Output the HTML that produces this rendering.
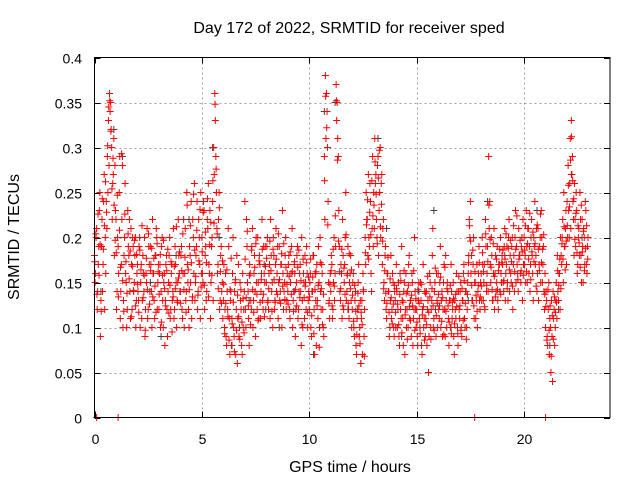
<!DOCTYPE html>
<html><head><meta charset="utf-8"><style>
body{margin:0;background:#fff}
svg{display:block;font-family:"Liberation Sans",sans-serif}
</style></head><body>
<svg id="chart" width="640" height="480" viewBox="0 0 640 480" xmlns="http://www.w3.org/2000/svg">
<rect width="640" height="480" fill="#fff"/>
<text x="349" y="33" text-anchor="middle" font-size="16">Day 172 of 2022, SRMTID for receiver sped</text>
<text x="350" y="472" text-anchor="middle" font-size="16">GPS time / hours</text>
<text transform="translate(19,237) rotate(-90)" text-anchor="middle" font-size="16">SRMTID / TECUs</text>
<g id="grid"></g>
<g id="axes"></g>
<g id="gray"></g>
<g id="red"></g>
<rect x="94.5" y="57.5" width="515.5" height="360" fill="none" stroke="#000" stroke-width="1"/>
</svg>
<script>
const xTicks=[0,5,10,15,20];
const yTicks=[0,0.05,0.1,0.15,0.2,0.25,0.3,0.35,0.4];
const yTickLabels=["0","0.05","0.1","0.15","0.2","0.25","0.3","0.35","0.4"];
const epochStart=0, epochStep=0.05;
const valuesA=[
.18,.16,.21,.14,.19,.25,.13,.22,.17,.27,.2,.24,.29,.33,.36,.35,.3,.26,.31,.28,
.22,.14,.19,.25,.11,.17,.28,.13,.2,.16,.1,.23,.18,.14,.21,.12,.19,.15,.2,.13,
.17,.13,.2,.15,.11,.18,.14,.09,.16,.21,.12,.17,.19,.14,.22,.16,.11,.18,.2,.15,
.12,.17,.14,.2,.1,.16,.13,.18,.09,.15,.2,.12,.17,.14,.11,.19,.15,.13,.22,.16,
.14,.19,.11,.22,.16,.13,.25,.15,.1,.18,.24,.13,.2,.26,.15,.19,.12,.22,.17,.25,
.2,.15,.23,.18,.13,.22,.26,.16,.11,.19,.24,.3,.36,.29,.21,.17,.25,.13,.19,.15,
.13,.1,.16,.08,.12,.19,.07,.14,.11,.2,.09,.15,.12,.06,.17,.1,.13,.08,.16,.12,
.24,.1,.19,.14,.08,.16,.12,.21,.13,.18,.09,.15,.2,.11,.17,.14,.22,.12,.16,.19,
.15,.2,.12,.17,.22,.14,.1,.18,.13,.21,.16,.11,.19,.14,.17,.23,.12,.15,.2,.13,
.14,.18,.11,.16,.21,.13,.17,.09,.15,.19,.12,.16,.14,.2,.1,.15,.18,.12,.16,.13,
.12,.16,.09,.14,.18,.07,.13,.17,.11,.15,.2,.12,.16,.1,.29,.38,.36,.3,.15,.11,
.14,.17,.12,.2,.16,.37,.35,.29,.19,.13,.16,.22,.12,.17,.25,.14,.19,.11,.16,.13,
.12,.16,.09,.14,.07,.12,.17,.1,.06,.13,.16,.09,.2,.25,.22,.27,.19,.24,.14,.29,
.25,.31,.27,.2,.29,.23,.3,.26,.17,.22,.13,.19,.11,.16,.14,.1,.18,.12,.15,.09,
.13,.17,.1,.15,.08,.12,.19,.11,.14,.07,.16,.12,.1,.18,.13,.09,.15,.11,.2,.12,
.12,.08,.15,.1,.13,.07,.17,.11,.09,.14,.12,.05,.16,.1,.13,.21,.11,.15,.09,.13,
.16,.11,.19,.13,.09,.15,.12,.18,.1,.14,.08,.13,.17,.11,.15,.07,.12,.16,.1,.14,
.11,.15,.09,.13,.17,.1,.14,.12,.16,.22,.24,.18,.13,.2,.15,.11,.17,.14,.19,.12,
.16,.2,.13,.17,.22,.14,.19,.29,.24,.15,.18,.13,.21,.16,.14,.19,.12,.17,.2,.15,
.17,.14,.21,.16,.19,.13,.22,.18,.15,.2,.17,.14,.23,.19,.16,.21,.18,.15,.2,.22,
.2,.18,.23,.15,.21,.19,.17,.22,.16,.2,.24,.18,.14,.21,.17,.2,.23,.15,.19,.12,
.1,.13,.08,.15,.11,.05,.09,.14,.12,.1,.15,.18,.13,.16,.2,.17,.22,.25,.19,.23,
.24,.28,.2,.31,.33,.29,.22,.26,.19,.23,.17,.21,.25,.18,.22,.15,.2,.24,.17,.19];
const valuesB=[
.15,.2,.12,.17,.23,.09,.19,.14,.24,.12,.16,.21,.25,.28,.34,.32,.22,.27,.18,.23,
.12,.2,.16,.29,.14,.22,.1,.18,.26,.15,.12,.19,.22,.11,.17,.2,.14,.18,.1,.16,
.14,.19,.1,.17,.13,.16,.2,.12,.15,.11,.19,.14,.17,.1,.16,.13,.18,.21,.12,.17,
.16,.1,.19,.13,.15,.08,.17,.12,.14,.18,.11,.16,.13,.21,.12,.17,.1,.15,.18,.14,
.18,.12,.16,.1,.21,.14,.17,.12,.19,.15,.11,.22,.16,.13,.18,.24,.14,.2,.11,.16,
.16,.24,.12,.19,.14,.21,.17,.23,.15,.2,.13,.27,.33,.25,.16,.22,.12,.18,.14,.11,
.17,.12,.09,.14,.21,.11,.13,.08,.16,.1,.14,.07,.18,.11,.09,.15,.12,.07,.1,.14,
.12,.22,.15,.11,.17,.13,.19,.1,.16,.14,.2,.12,.15,.18,.11,.16,.13,.19,.15,.12,
.19,.13,.16,.11,.18,.15,.2,.12,.17,.14,.19,.15,.13,.17,.1,.16,.14,.18,.12,.16,
.17,.12,.15,.19,.1,.14,.16,.12,.18,.11,.14,.17,.08,.13,.16,.11,.15,.19,.1,.14,
.15,.1,.14,.18,.12,.16,.08,.13,.19,.1,.14,.17,.12,.09,.22,.31,.34,.24,.13,.16,
.18,.11,.15,.13,.19,.33,.31,.23,.14,.17,.11,.18,.15,.2,.13,.16,.12,.15,.18,.1,
.15,.1,.13,.08,.11,.15,.09,.13,.11,.07,.14,.12,.17,.22,.18,.2,.26,.16,.21,.19,
.21,.26,.22,.28,.18,.25,.2,.27,.21,.15,.18,.12,.16,.14,.09,.13,.11,.16,.1,.14,
.1,.14,.12,.09,.16,.11,.13,.08,.15,.12,.1,.14,.17,.11,.13,.16,.08,.12,.14,.1,
.09,.13,.11,.15,.08,.12,.1,.14,.11,.08,.13,.09,.15,.12,.18,.1,.14,.12,.16,.1,
.12,.15,.1,.14,.12,.17,.09,.13,.15,.11,.13,.1,.14,.12,.09,.13,.11,.14,.08,.12,
.14,.1,.13,.16,.11,.14,.1,.15,.18,.2,.16,.13,.17,.11,.15,.13,.1,.16,.13,.15,
.13,.17,.15,.12,.19,.16,.14,.21,.17,.2,.13,.16,.12,.18,.15,.13,.17,.14,.16,.18,
.15,.19,.13,.17,.15,.2,.14,.16,.19,.12,.18,.2,.15,.17,.14,.18,.16,.19,.13,.17,
.17,.15,.19,.21,.16,.14,.2,.18,.13,.19,.17,.21,.16,.13,.19,.15,.2,.17,.14,.16,
.14,.09,.12,.07,.1,.13,.04,.11,.08,.13,.11,.14,.16,.12,.18,.2,.15,.19,.21,.17,
.2,.23,.26,.21,.27,.24,.18,.22,.25,.16,.2,.18,.22,.15,.19,.21,.17,.23,.16,.2];
const valuesC=[
.173,.204,.137,.226,.158,.192,.118,.243,.187,.213,.262,.228,.302,.345,.352,.318,.254,.288,.236,.197,
.183,.247,.134,.208,.167,.293,.152,.118,.226,.173,.138,.204,.154,.185,.112,.168,.141,.197,.124,.181,
.148,.117,.186,.164,.213,.133,.158,.097,.177,.142,.204,.126,.163,.188,.134,.177,.146,.117,.193,.162,
.137,.181,.106,.158,.197,.143,.124,.163,.187,.116,.147,.173,.095,.134,.168,.143,.212,.128,.155,.184,
.127,.163,.204,.142,.178,.117,.236,.164,.142,.213,.172,.134,.248,.186,.157,.208,.136,.174,.231,.145,
.184,.228,.147,.206,.172,.243,.134,.192,.217,.158,.263,.216,.348,.276,.204,.143,.233,.162,.127,.174,
.148,.093,.127,.164,.112,.086,.142,.177,.104,.128,.073,.153,.097,.136,.112,.087,.142,.106,.132,.094,
.176,.133,.207,.124,.158,.103,.186,.142,.117,.167,.193,.137,.108,.174,.128,.153,.187,.137,.112,.168,
.177,.128,.143,.196,.163,.118,.187,.153,.128,.176,.137,.204,.153,.127,.182,.146,.193,.131,.167,.148,
.126,.157,.184,.137,.162,.118,.173,.142,.124,.167,.186,.133,.152,.103,.176,.133,.146,.172,.117,.156,
.134,.176,.113,.156,.093,.142,.162,.124,.147,.078,.172,.143,.103,.137,.263,.357,.322,.214,.127,.148,
.163,.124,.187,.146,.224,.352,.286,.196,.162,.143,.187,.124,.166,.137,.203,.158,.127,.182,.143,.164,
.136,.107,.147,.118,.092,.138,.124,.082,.117,.103,.142,.068,.183,.214,.242,.176,.228,.203,.263,.224,
.236,.284,.248,.193,.266,.297,.212,.237,.196,.143,.163,.138,.127,.178,.117,.154,.133,.104,.126,.147,
.117,.143,.126,.103,.137,.152,.094,.128,.163,.114,.138,.087,.147,.123,.108,.136,.124,.163,.097,.132,
.106,.142,.127,.093,.148,.114,.123,.086,.138,.103,.157,.117,.134,.087,.143,.124,.097,.166,.113,.127,
.137,.124,.156,.107,.133,.092,.167,.118,.143,.124,.106,.147,.093,.128,.132,.104,.137,.123,.093,.157,
.124,.097,.143,.108,.152,.127,.087,.137,.172,.213,.196,.147,.186,.124,.162,.136,.118,.147,.172,.134,
.146,.183,.162,.123,.204,.147,.173,.236,.198,.167,.142,.193,.157,.134,.176,.142,.163,.187,.137,.172,
.186,.152,.176,.204,.143,.188,.164,.197,.173,.146,.213,.162,.187,.224,.153,.176,.197,.163,.184,.158,
.186,.213,.162,.193,.176,.227,.153,.184,.206,.173,.193,.146,.214,.187,.163,.226,.172,.187,.203,.137,
.123,.086,.142,.097,.124,.068,.113,.087,.134,.117,.128,.163,.147,.176,.143,.193,.176,.212,.164,.196,
.213,.258,.234,.286,.312,.263,.243,.198,.227,.183,.213,.194,.167,.236,.184,.207,.163,.188,.213,.176];
const grayTimes=[0.3,0.9,1.3,1.9,2.6,3.1,3.8,4.4,5.5,5.8,6.4,7.2,7.9,8.6,9.3,10.2,10.7,11.2,11.8,12.4,13.2,13.6,14.3,15.1,15.8,16.6,17.4,18.3,19.1,19.9,20.6,21.2,21.6,22.2,22.7];
const grayValues=[0.14,0.32,0.29,0.2,0.15,0.09,0.18,0.22,0.3,0.2,0.08,0.13,0.17,0.1,0.14,0.07,0.34,0.35,0.12,0.06,0.31,0.21,0.09,0.14,0.23,0.1,0.13,0.24,0.18,0.2,0.23,0.08,0.12,0.27,0.2];
const zeroTimes=[0.1,1.1,17.7,21.0];
const L=94.5,R=610,T=57.5,B=417.5,XMAX=24,YMAX=0.4;
const xs=t=>L+(R-L)*t/XMAX, ys=v=>B-(B-T)*v/YMAX;
const NS="http://www.w3.org/2000/svg";
function mk(tag,attrs,parent){const e=document.createElementNS(NS,tag);for(const k in attrs)e.setAttribute(k,attrs[k]);parent.appendChild(e);return e;}
const grid=document.getElementById('grid'),axes=document.getElementById('axes');
xTicks.forEach(t=>{const x=Math.round(xs(t))+0.5;
 if(t>0){const g=mk('line',{x1:x,x2:x,y1:T,y2:B,stroke:'#a0a0a0','stroke-dasharray':'2,3'},grid);}
 const k=mk('path',{d:`M${x} ${B}v-6M${x} ${T}v6`,stroke:'#000'},axes);
 const tx=mk('text',{x:x,y:444,'text-anchor':'middle','font-size':14},axes);tx.textContent=t;});
yTicks.forEach((v,i)=>{const y=Math.round(ys(v))+0.5;
 if(v>0&&v<YMAX){const g=mk('line',{x1:L,x2:R,y1:y,y2:y,stroke:'#a0a0a0','stroke-dasharray':'2,3'},grid);}
 const k=mk('path',{d:`M${L} ${y}h6M${R} ${y}h-6`,stroke:'#000'},axes);
 const tx=mk('text',{x:82,y:y+5,'text-anchor':'end','font-size':14},axes);tx.textContent=yTickLabels[i];});
function plus(x,y,col,g){return mk('path',{d:`M${x-3.5} ${y}h7M${x} ${y-3.5}v7`,stroke:col,'stroke-width':1},g);}
const gg=document.getElementById('gray'),rg=document.getElementById('red');
grayTimes.forEach((t,i)=>{const p=plus(xs(t),ys(grayValues[i]),'#404040',gg);});
valuesA.forEach((v,i)=>{const p=plus(xs(epochStart+i*epochStep),ys(v),'#ff0000',rg);});
valuesB.forEach((v,i)=>{const p=plus(xs(epochStart+(i+0.5)*epochStep),ys(v),'#ff0000',rg);});
valuesC.forEach((v,i)=>{const p=plus(xs(epochStart+(i+0.25)*epochStep),ys(v),'#ff0000',rg);});
zeroTimes.forEach(t=>{const p=plus(xs(t),ys(0),'#ff0000',rg);});
</script>
</body></html>
